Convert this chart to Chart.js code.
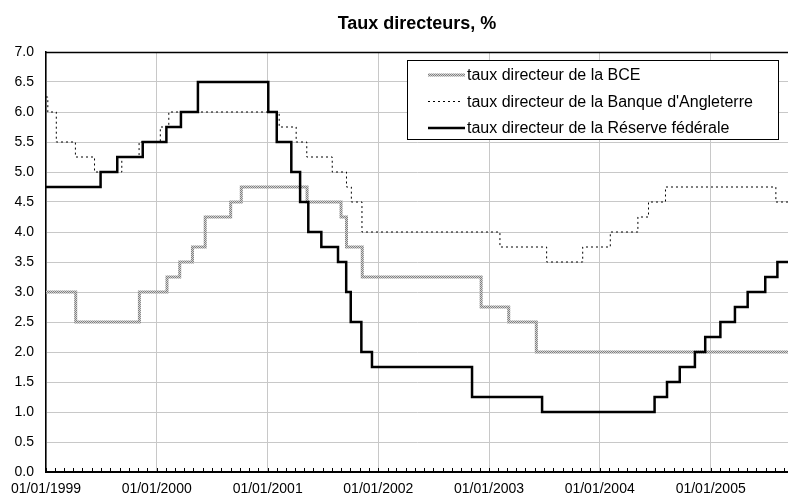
<!DOCTYPE html>
<html>
<head>
<meta charset="utf-8">
<script src="https://cdn.jsdelivr.net/npm/chart.js@4.4.0/dist/chart.umd.min.js"></script>
<style>
  html, body { margin: 0; padding: 0; background: #fff; }
  #wrap { width: 788px; height: 497px; position: relative; }
</style>
</head>
<body>
<div id="wrap"><canvas id="chart"></canvas></div>
<script>
// Dates of rate changes (dd/mm/yyyy) and the rates from that date on
const ecbDates = ['01/01/1999', '09/04/1999', '05/11/1999', '04/02/2000', '17/03/2000', '28/04/2000',
  '09/06/2000', '01/09/2000', '06/10/2000', '11/05/2001', '31/08/2001', '18/09/2001', '09/11/2001',
  '06/12/2002', '07/03/2003', '06/06/2003', '13/09/2005'];
const ecbRates = [3.00, 2.50, 3.00, 3.25, 3.50, 3.75, 4.25, 4.50, 4.75, 4.50, 4.25, 3.75, 3.25,
  2.75, 2.50, 2.00, 2.00];

const boeDates = ['01/01/1999', '07/01/1999', '04/02/1999', '08/04/1999', '10/06/1999', '08/09/1999',
  '04/11/1999', '13/01/2000', '10/02/2000', '08/02/2001', '05/04/2001', '10/05/2001', '02/08/2001',
  '18/09/2001', '04/10/2001', '08/11/2001', '06/02/2003', '10/07/2003', '06/11/2003', '05/02/2004',
  '06/05/2004', '10/06/2004', '05/08/2004', '04/08/2005', '13/09/2005'];
const boeRates = [6.25, 6.00, 5.50, 5.25, 5.00, 5.25, 5.50, 5.75, 6.00, 5.75, 5.50, 5.25, 5.00,
  4.75, 4.50, 4.00, 3.75, 3.50, 3.75, 4.00, 4.25, 4.50, 4.75, 4.50, 4.50];

const fedDates = ['01/01/1999', '30/06/1999', '24/08/1999', '16/11/1999', '02/02/2000', '21/03/2000',
  '16/05/2000', '03/01/2001', '31/01/2001', '20/03/2001', '18/04/2001', '15/05/2001', '27/06/2001',
  '21/08/2001', '17/09/2001', '02/10/2001', '06/11/2001', '11/12/2001', '06/11/2002', '25/06/2003',
  '30/06/2004', '10/08/2004', '21/09/2004', '10/11/2004', '14/12/2004', '02/02/2005', '22/03/2005',
  '03/05/2005', '30/06/2005', '09/08/2005', '13/09/2005'];
const fedRates = [4.75, 5.00, 5.25, 5.50, 5.75, 6.00, 6.50, 6.00, 5.50, 5.00, 4.50, 4.00, 3.75,
  3.50, 3.00, 2.50, 2.00, 1.75, 1.25, 1.00, 1.25, 1.50, 1.75, 2.00, 2.25, 2.50, 2.75, 3.00, 3.25,
  3.50, 3.50];

const seriesLabels = ['taux directeur de la BCE', "taux directeur de la Banque d'Angleterre",
  'taux directeur de la Réserve fédérale'];
const yearTicks = ['01/01/1999', '01/01/2000', '01/01/2001', '01/01/2002', '01/01/2003',
  '01/01/2004', '01/01/2005'];
const axisStart = '01/01/1999';
const axisEnd = '13/09/2005';

const DAY = 86400000;
function toDay(s) {
  const [d, m, y] = s.split('/').map(Number);
  return (Date.UTC(y, m - 1, d) - Date.UTC(1999, 0, 1)) / DAY;
}
function fromDay(n) {
  const dt = new Date(Date.UTC(1999, 0, 1) + n * DAY);
  const p = v => String(v).padStart(2, '0');
  return p(dt.getUTCDate()) + '/' + p(dt.getUTCMonth() + 1) + '/' + dt.getUTCFullYear();
}
function points(dates, rates) {
  return dates.map((d, i) => ({ x: toDay(d), y: rates[i] }));
}

// hatched grey look for the ECB line
const pc = document.createElement('canvas');
pc.width = 2; pc.height = 2;
const pctx = pc.getContext('2d');
pctx.fillStyle = '#d4d4d4'; pctx.fillRect(0, 0, 2, 2);
pctx.fillStyle = '#808080'; pctx.fillRect(0, 0, 1, 1); pctx.fillRect(1, 1, 1, 1);
const ecbPattern = pctx.createPattern(pc, 'repeat');

const FONT = "'Liberation Sans', Arial, sans-serif";

// legend box drawn inside the plot area, plus top border and monthly minor ticks
const decorPlugin = {
  id: 'decor',
  afterDatasetsDraw(chart) {
    const { ctx, chartArea: a, scales: { x } } = chart;
    ctx.save();
    // top border
    ctx.strokeStyle = '#000';
    ctx.lineWidth = 1.5;
    ctx.beginPath();
    ctx.moveTo(a.left, a.top + 0.5);
    ctx.lineTo(a.right, a.top + 0.5);
    ctx.stroke();
    // monthly minor ticks
    ctx.lineWidth = 1;
    for (let y = 1999; y <= 2005; y++) {
      for (let m = 1; m <= 12; m++) {
        const d = toDay('01/' + String(m).padStart(2, '0') + '/' + y);
        if (d > toDay(axisEnd)) break;
        const px = Math.round(x.getPixelForValue(d)) + 0.5;
        ctx.beginPath();
        ctx.moveTo(px, a.bottom);
        ctx.lineTo(px, a.bottom - 4);
        ctx.stroke();
      }
    }
    // legend
    const bx = a.right - 381, by = a.top + 8, bw = 371, bh = 79;
    ctx.fillStyle = '#fff';
    ctx.fillRect(bx, by, bw, bh);
    ctx.strokeStyle = '#000';
    ctx.lineWidth = 1;
    ctx.strokeRect(bx + 0.5, by + 0.5, bw, bh);
    ctx.font = '16px ' + FONT;
    ctx.textBaseline = 'middle';
    ctx.fillStyle = '#000';
    chart.data.datasets.forEach((ds, i) => {
      const ly = by + 15 + i * 26.5;
      ctx.save();
      ctx.strokeStyle = ds.borderColor;
      ctx.lineWidth = ds.borderWidth;
      ctx.setLineDash(ds.borderDash || []);
      ctx.beginPath();
      ctx.moveTo(bx + 21, ly);
      ctx.lineTo(bx + (i === 1 ? 53 : 58), ly);
      ctx.stroke();
      ctx.restore();
      ctx.fillText(ds.label, bx + 60, ly + 1);
    });
    ctx.restore();
  }
};

new Chart(document.getElementById('chart'), {
  type: 'line',
  data: {
    datasets: [
      {
        label: seriesLabels[0],
        data: points(ecbDates, ecbRates),
        borderColor: ecbPattern,
        borderWidth: 3,
        stepped: true,
        pointRadius: 0,
        order: 3
      },
      {
        label: seriesLabels[1],
        data: points(boeDates, boeRates),
        borderColor: '#000',
        borderWidth: 1,
        borderDash: [2, 3],
        stepped: true,
        pointRadius: 0,
        order: 2
      },
      {
        label: seriesLabels[2],
        data: points(fedDates, fedRates),
        borderColor: '#000',
        borderWidth: 2.5,
        stepped: true,
        pointRadius: 0,
        order: 1
      }
    ]
  },
  options: {
    responsive: true,
    maintainAspectRatio: false,
    animation: false,
    layout: { padding: 0 },
    plugins: {
      legend: { display: false },
      tooltip: { enabled: false },
      title: {
        display: true,
        fullSize: false,
        text: 'Taux directeurs, %',
        color: '#000',
        font: { family: FONT, size: 18, weight: 'bold' },
        padding: { top: 13, bottom: 17.4 }
      }
    },
    scales: {
      x: {
        type: 'linear',
        min: toDay(axisStart),
        max: toDay(axisEnd),
        afterBuildTicks(scale) {
          scale.ticks = yearTicks.map(t => ({ value: toDay(t) }));
        },
        afterFit(scale) { scale.height = 25; },
        ticks: {
          autoSkip: false,
          maxRotation: 0,
          padding: 9,
          color: '#000',
          font: { family: FONT, size: 14 },
          callback: v => fromDay(v)
        },
        grid: { color: '#c8c8c8', lineWidth: 1, drawTicks: false },
        border: { color: '#000', width: 2 }
      },
      y: {
        min: 0,
        max: 7,
        afterFit(scale) { scale.width = 46; },
        ticks: {
          stepSize: 0.5,
          padding: 12,
          color: '#000',
          font: { family: FONT, size: 14 },
          callback: v => v.toFixed(1)
        },
        grid: { color: '#c8c8c8', lineWidth: 1, drawTicks: false },
        border: { color: '#000', width: 1.5 }
      }
    }
  },
  plugins: [decorPlugin]
});
</script>
</body>
</html>
